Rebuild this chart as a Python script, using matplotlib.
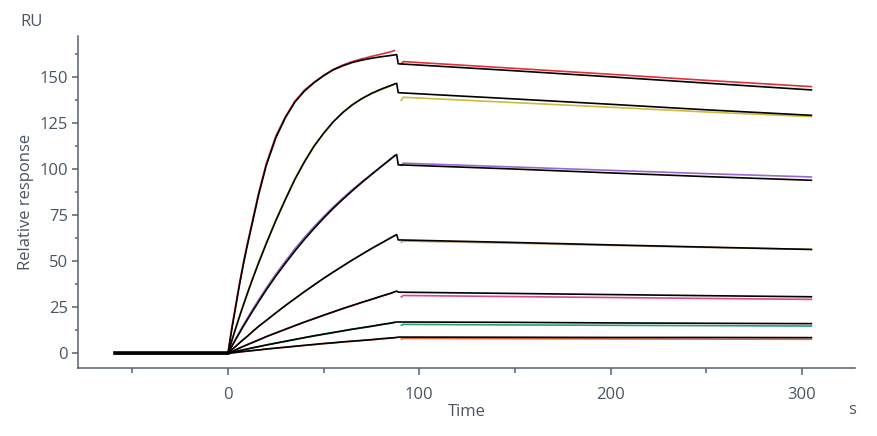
import matplotlib
matplotlib.use("Agg")
import numpy as np
import matplotlib.pyplot as plt
from matplotlib.ticker import MultipleLocator

# baseline / association / dissociation time points (s)
t_base = [-59, 0]
t_assoc = [0, 2, 4, 6, 8, 10, 13, 16, 20, 25, 30, 35, 40, 45, 50, 55, 60, 65,
           70, 75, 80, 85, 88.2]
t_assoc_data = [0, 2, 4, 6, 8, 10, 13, 16, 20, 25, 30, 35, 40, 45, 50, 55, 60,
                65, 70, 75, 80, 85, 87]
t_diss_fit = [89.0, 150, 200, 250, 305]
t_diss_data = [90.6, 91.6, 150, 200, 250, 305]

# fitted curves (black), one list per concentration, high -> low
fit_assoc = [
    [0, 13, 25, 37, 48, 58, 72, 86, 102, 117, 128, 136.5, 142.5, 147, 150.8,
     154, 156.2, 158, 159.3, 160.3, 161.1, 161.8, 162.3],
    [0, 6.8, 13.4, 19.8, 26, 32, 40.7, 49, 59.5, 72, 83.5, 94.5, 104, 112.5,
     119.5, 125.7, 130.8, 135, 138.4, 141.2, 143.5, 145.5, 146.7],
    [0, 3.7, 7.4, 11.0, 14.6, 18.0, 23.1, 28.0, 34.4, 41.9, 48.9, 55.6, 61.9,
     67.8, 73.4, 78.7, 83.6, 88.3, 92.8, 97.1, 101.4, 105.6, 108.0],
    [0, 1.9, 3.7, 5.6, 7.4, 9.1, 11.9, 14.6, 17.8, 21.9, 25.9, 29.7, 33.5,
     37.1, 40.7, 44.1, 47.4, 50.7, 53.8, 56.9, 59.8, 62.7, 64.5],
    [0, 0.9, 1.8, 2.8, 3.7, 4.6, 5.9, 7.2, 9.0, 11.0, 13.0, 15.0, 17.0, 18.8,
     20.7, 22.5, 24.3, 26.0, 27.7, 29.3, 31.0, 32.6, 33.8],
    [0, 0.45, 0.9, 1.4, 1.85, 2.3, 3.0, 3.6, 4.5, 5.5, 6.5, 7.5, 8.5, 9.5,
     10.4, 11.3, 12.2, 13.1, 13.9, 14.7, 15.6, 16.4, 17.0],
    [0, 0.2, 0.45, 0.7, 0.95, 1.15, 1.5, 1.8, 2.3, 2.8, 3.3, 3.8, 4.3, 4.8,
     5.3, 5.7, 6.2, 6.6, 7.0, 7.4, 7.9, 8.3, 8.6],
]
fit_diss = [
    [157.3, 153.5, 150.2, 146.8, 143.1],
    [141.6, 138.2, 135.3, 132.3, 129.3],
    [102.4, 100.1, 98.0, 96.0, 94.0],
    [61.6, 60.2, 58.9, 57.7, 56.4],
    [33.2, 32.5, 31.9, 31.3, 30.7],
    [17.0, 16.8, 16.5, 16.3, 16.1],
    [8.8, 8.7, 8.6, 8.6, 8.5],
]

# measured curves (coloured)
data_assoc = [
    [0, 14, 26, 38, 49, 59, 73, 87, 103, 118, 128.5, 137, 143, 147.3, 151,
     154.2, 156.6, 158.5, 160, 161.3, 162.5, 163.8, 164.5],
    [0, 7, 13.8, 20.3, 26.5, 32.5, 41.2, 49.5, 60, 72.5, 84, 95, 104.5, 112.8,
     119.7, 125.8, 130.8, 135, 138.3, 141, 143.2, 145.2, 146.2],
    [0, 4, 7.8, 11.6, 15.3, 18.8, 24, 29, 35.5, 43, 50, 56.8, 63, 68.8, 74.3,
     79.5, 84.3, 88.9, 93.2, 97.3, 101.3, 105.3, 107.6],
    [0, 2.0, 3.8, 5.7, 7.5, 9.2, 12.0, 14.7, 17.9, 22.0, 26.0, 29.8, 33.5,
     37.1, 40.7, 44.1, 47.4, 50.6, 53.7, 56.8, 59.7, 62.6, 64.0],
    [0, 0.9, 1.9, 2.9, 3.8, 4.7, 6.0, 7.3, 9.1, 11.1, 13.1, 15.0, 16.9, 18.8,
     20.6, 22.4, 24.2, 25.9, 27.6, 29.2, 30.9, 32.5, 33.4],
    [0, 0.5, 0.9, 1.4, 1.9, 2.3, 3.0, 3.6, 4.5, 5.5, 6.5, 7.5, 8.5, 9.4,
     10.3, 11.2, 12.1, 13.0, 13.8, 14.6, 15.5, 16.3, 16.8],
    [0, 0.2, 0.45, 0.7, 0.95, 1.15, 1.5, 1.8, 2.3, 2.8, 3.3, 3.8, 4.3, 4.7,
     5.2, 5.6, 6.1, 6.5, 6.9, 7.3, 7.8, 8.2, 8.4],
]
data_diss = [
    [157.2, 158.5, 154.8, 151.6, 148.3, 144.9],
    [137.4, 139.1, 136.2, 133.7, 131.1, 128.6],
    [102.0, 103.3, 101.2, 99.4, 97.6, 95.8],
    [60.3, 61.0, 59.8, 58.6, 57.5, 56.5],
    [30.6, 31.4, 30.8, 30.3, 29.8, 29.3],
    [15.2, 15.7, 15.4, 15.2, 15.0, 14.8],
    [7.7, 8.1, 7.9, 7.8, 7.7, 7.6],
]
colors = ["#e03038", "#cdbb3c", "#9a68cc", "#c4a272", "#d9488e", "#2e9e6c", "#e8643a"]

axis_col = "#56626e"
text_col = "#4a5562"

plt.rcParams["font.family"] = ["Open Sans", "DejaVu Sans"]

fig = plt.figure(figsize=(8.77, 4.36), dpi=100)
ax = fig.add_axes([78 / 877, 1 - 368 / 436, (855 - 78) / 877, (368 - 36) / 436])

for i in range(len(colors)):
    ax.plot(t_assoc_data, data_assoc[i], color=colors[i], lw=1.2)
    ax.plot(t_diss_data, data_diss[i], color=colors[i], lw=1.2)

for i in range(len(colors)):
    ax.plot(t_base + t_assoc + t_diss_fit, [0, 0] + fit_assoc[i] + fit_diss[i],
            color="black", lw=1.2)

ax.plot(t_base, [0, 0], color="black", lw=2.6)

ax.set_xlim(-78.4, 327.8)
ax.set_ylim(-8, 172.4)
ax.xaxis.set_major_locator(MultipleLocator(100))
ax.xaxis.set_minor_locator(MultipleLocator(50))
ax.yaxis.set_major_locator(MultipleLocator(25))
ax.yaxis.set_minor_locator(MultipleLocator(12.5))
ax.set_yticks([0, 25, 50, 75, 100, 125, 150])

for s in ["top", "right"]:
    ax.spines[s].set_visible(False)
for s in ["left", "bottom"]:
    ax.spines[s].set_color(axis_col)
    ax.spines[s].set_linewidth(1.1)

ax.tick_params(which="both", color=axis_col, width=1.1, labelcolor=text_col,
               labelsize=12)
ax.tick_params(axis="x", which="major", length=5.3, pad=8.5)
ax.tick_params(axis="x", which="minor", length=3.5)
ax.tick_params(axis="y", which="major", length=4.3, pad=3)
ax.tick_params(axis="y", which="minor", length=2.5)

ax.set_xlabel("Time", color=text_col, fontsize=12, labelpad=0.5)
ax.set_ylabel("Relative response", color=text_col, fontsize=12, labelpad=4)
fig.text(32 / 877, 1 - 22 / 436, "RU", color=text_col, fontsize=12,
         ha="center", va="center")
fig.text(852 / 877, 1 - 410 / 436, "s", color=text_col, fontsize=12,
         ha="center", va="center")

fig.savefig("out.png", dpi=100)
